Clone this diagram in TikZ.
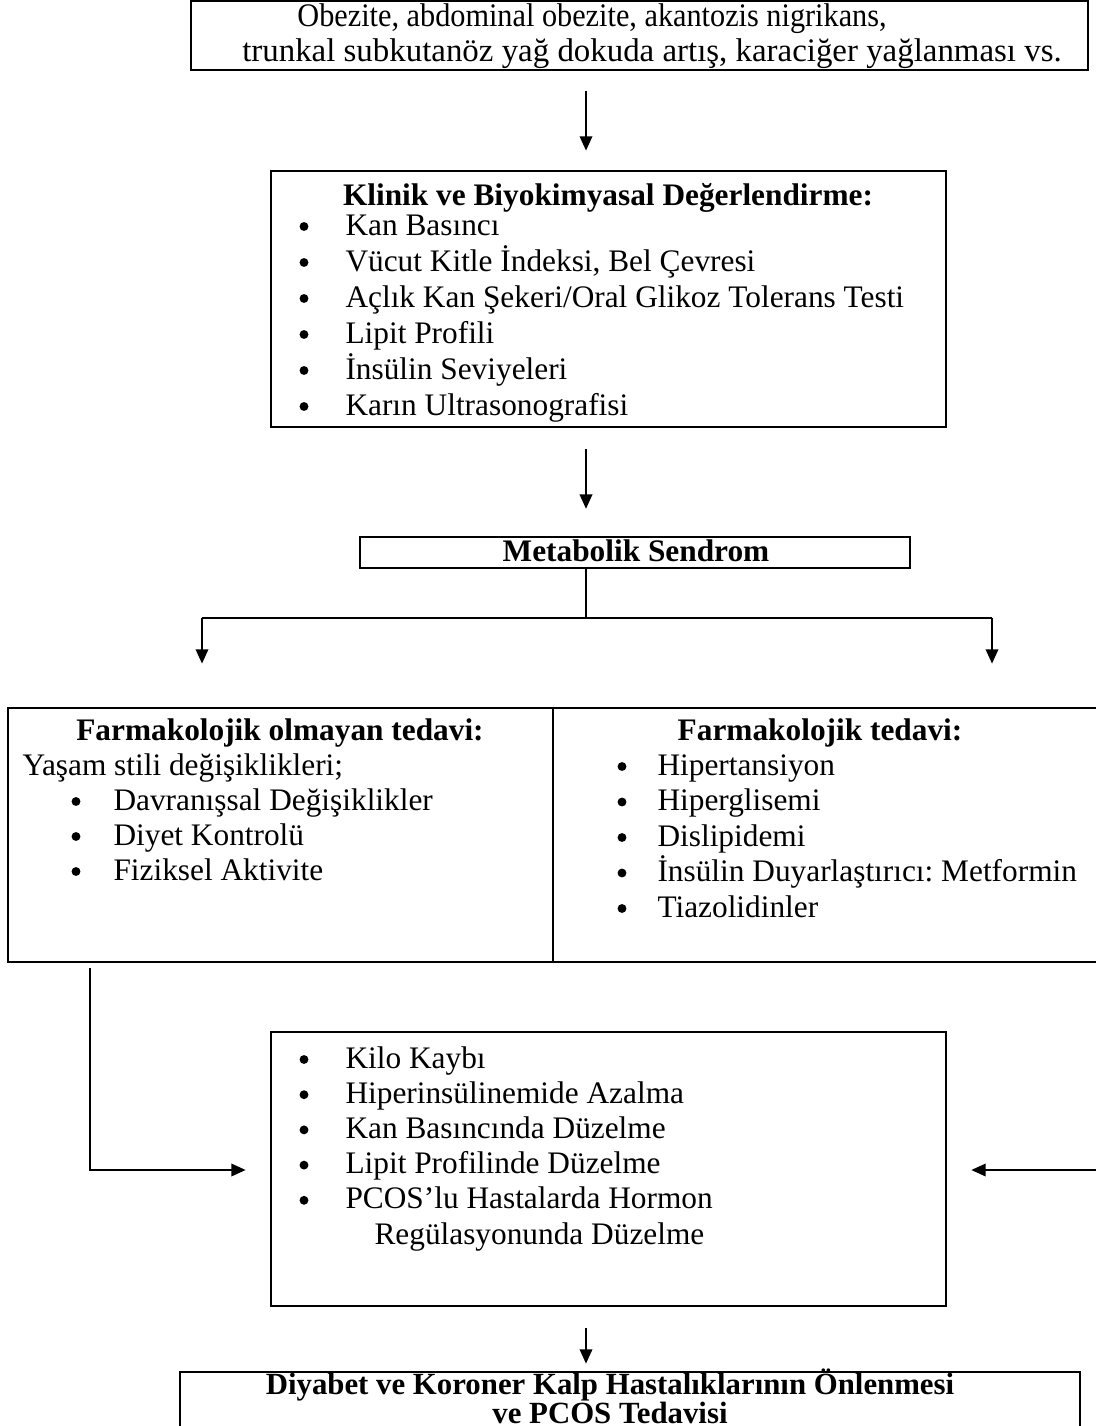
\documentclass[tikz,border=0pt]{standalone}
\usepackage{fontspec}
\setmainfont{Liberation Serif}
\usetikzlibrary{arrows.meta,fit,calc}
\frenchspacing
\newcommand\tightls{\lineskiplimit=-20pt\relax\lineskip=0pt\relax}
\begin{document}
\begin{tikzpicture}[x=0.383pt,y=-0.383pt,
  box/.style={draw,line width=1pt,inner sep=0pt},
  conn/.style={line width=0.7pt},
  arr/.style={conn,-{Triangle[length=5.5pt,width=4.8pt]}},
  txt/.style={inner sep=0pt,font=\fontsize{12}{13.8}\selectfont},
  ttl/.style={inner sep=0pt,font=\fontsize{12}{13.8}\selectfont\bfseries},
  bigtxt/.style={inner sep=0pt,font=\fontsize{12.6}{14}\selectfont},
  bul/.style={circle,fill,inner sep=0pt,minimum size=3.4pt}]
\clip (0,0) rectangle (1096,1426);
% --- boxes
\node[box,fit={(191,1)(1088,70)}] (topbox) {};
\node[box,fit={(271,171)(946,427)}] (klinik) {};
\node[box,fit={(360,537)(910,568)}] (meta) {};
\node[box,fit={(8,708)(1120,962)}] (tablo) {};
\node[box,fit={(271,1032)(946,1306)}] (result) {};
\node[box,fit={(180,1372)(1080,1450)}] (final) {};
\coordinate (divx) at (553,0);
\draw[line width=0.55pt] (tablo.north -| divx) -- (tablo.south -| divx);
% --- top box text
\node[bigtxt,anchor=base] (top1) at (592,27) {\scalebox{0.92}[1]{Obezite, abdominal obezite, akantozis nigrikans,}};
\node[bigtxt,anchor=base] (top2) at (652,62) {trunkal subkutanöz yağ dokuda artış, karaciğer yağlanması vs.};
% --- klinik
\node[ttl,anchor=base] (klinikT) at (608,206) {Klinik ve Biyokimyasal Değerlendirme:};
\foreach \t [count=\i] in {Kan Basıncı,{Vücut Kitle İndeksi, Bel Çevresi},Açlık Kan Şekeri/Oral Glikoz Tolerans Testi,Lipit Profili,İnsülin Seviyeleri,Karın Ultrasonografisi}{
  \node[bul] (kb\i) at (304,{235+36*(\i-1)-8.5}) {};
  \node[txt,anchor=base west] (kt\i) at (345,{235+36*(\i-1)}) {\t};
}
% --- metabolik
\node[ttl,anchor=base] (metaT) at (636,561) {Metabolik Sendrom};
% --- table left
\node[ttl,anchor=base] (solT) at (280,740) {Farmakolojik olmayan tedavi:};
\node[txt,anchor=base west] (solY) at (22,775) {Yaşam stili değişiklikleri;};
\foreach \t [count=\i] in {Davranışsal Değişiklikler,Diyet Kontrolü,Fiziksel Aktivite}{
  \node[bul] (lb\i) at (76,{810+35*(\i-1)-8.5}) {};
  \node[txt,anchor=base west] (lt\i) at (113,{810+35*(\i-1)}) {\t};
}
% --- table right
\node[ttl,anchor=base] (sagT) at (820,740) {Farmakolojik tedavi:};
\foreach \t [count=\i] in {Hipertansiyon,Hiperglisemi,Dislipidemi,İnsülin Duyarlaştırıcı: Metformin,Tiazolidinler}{
  \node[bul] (rb\i) at (622,{775+35.5*(\i-1)-8.5}) {};
  \node[txt,anchor=base west] (rt\i) at (657,{775+35.5*(\i-1)}) {\t};
}
% --- result
\foreach \t [count=\i] in {Kilo Kaybı,Hiperinsülinemide Azalma,Kan Basıncında Düzelme,Lipit Profilinde Düzelme,PCOS’lu Hastalarda Hormon}{
  \node[bul] (sb\i) at (304,{1068+35.2*(\i-1)-8.5}) {};
  \node[txt,anchor=base west] (st\i) at (345,{1068+35.2*(\i-1)}) {\t};
}
\node[txt,anchor=base west] (st6) at (374,1244) {Regülasyonunda Düzelme};
% --- final
\node[inner sep=0pt,align=center,anchor=south,
      font=\fontsize{11.8}{11.1}\selectfont\bfseries\tightls]
  (fin) at (610,1424) {Diyabet ve Koroner Kalp Hastalıklarının Önlenmesi\\ve PCOS Tedavisi};
% --- connectors
\coordinate (ax) at (586,0);
\coordinate (lbr) at (202,618);
\coordinate (rbr) at (992,618);
\coordinate (lc) at (90,1170);
\coordinate (rc) at (1100,1170);
\draw[arr,shorten <=7.7pt,shorten >=7.3pt] (topbox.south -| ax) -- (klinik.north -| ax);
\draw[arr,shorten <=8pt,shorten >=10.3pt] (klinik.south -| ax) -- (meta.north -| ax);
\draw[conn] (meta.south -| ax) -- (ax |- lbr);
\draw[conn] (lbr) -- (rbr);
\draw[arr,shorten >=16.5pt] (lbr) -- (lbr |- tablo.north);
\draw[arr,shorten >=16.5pt] (rbr) -- (rbr |- tablo.north);
\draw[arr,shorten <=1.9pt,shorten >=9.2pt] (tablo.south -| lc) -- (lc) -- (result.west |- lc);
\draw[arr,shorten >=9.2pt] (rc) -- (result.east |- rc);
\draw[arr,shorten <=8pt,shorten >=2.7pt] (result.south -| ax) -- (final.north -| ax);
\end{tikzpicture}
\end{document}
